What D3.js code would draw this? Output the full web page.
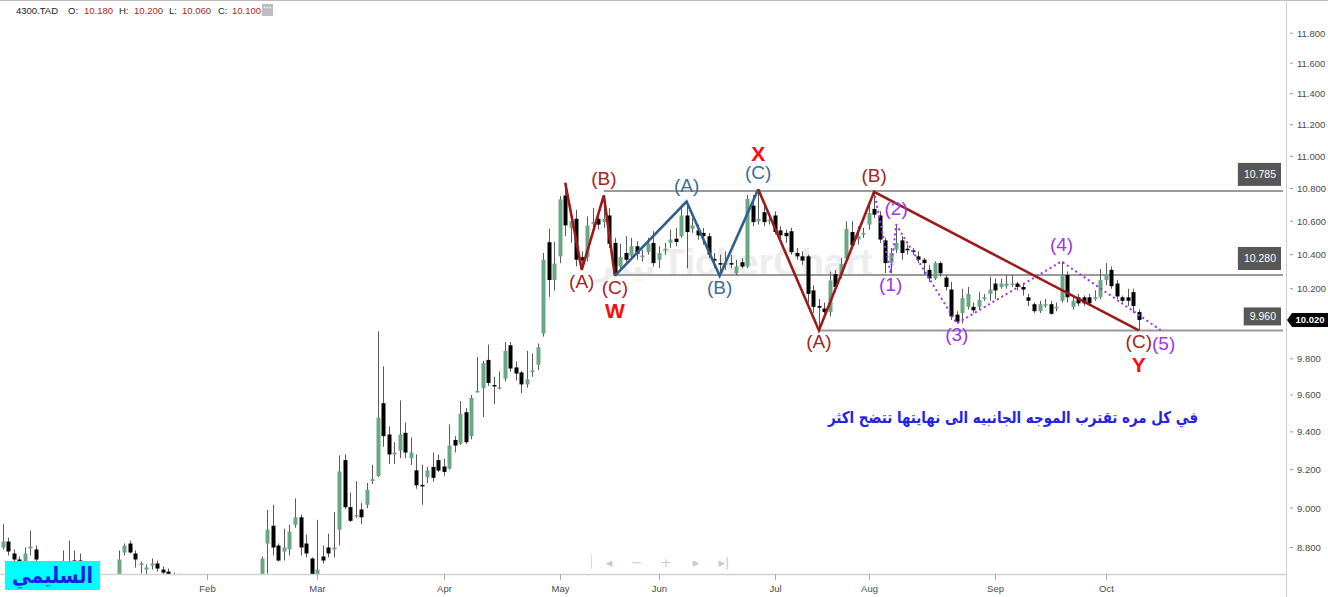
<!DOCTYPE html>
<html><head><meta charset="utf-8">
<script src="https://cdn.jsdelivr.net/npm/d3@7"></script>
<style>
html,body{margin:0;padding:0;background:#fff;overflow:hidden}
svg{display:block}
</style></head><body>
<svg id="chart" width="1328" height="597"></svg>
<script>
// ---- daily OHLC for 4300.TAD, one entry per trading session ----
const opens = [8.80,8.83,8.77,8.74,8.73,8.795,8.79,8.72,8.68,8.70,8.67,8.69,8.71,8.735,8.735,8.69,8.66,8.64,8.62,8.60,
8.62,8.63,8.775,8.82,8.77,8.715,8.69,8.71,8.72,8.69,8.68,8.66,8.64,8.62,8.59,8.55,8.52,8.48,8.50,8.47,
8.44,8.46,8.50,8.53,8.56,8.60,8.58,8.63,8.82,8.91,8.81,8.78,8.79,8.915,8.953,8.82,8.745,8.64,8.755,8.80,
8.79,8.89,9.25,9.005,8.96,8.993,9.017,9.14,9.167,9.555,9.386,9.28,9.30,9.395,9.26,9.196,9.12,9.16,9.214,9.25,
9.216,9.205,9.357,9.337,9.506,9.377,9.618,9.637,9.794,9.655,9.638,9.69,9.876,9.752,9.724,9.658,9.728,9.767,9.942,10.474,
10.25,10.39,10.757,10.56,10.615,10.385,10.385,10.585,10.615,10.595,10.635,10.47,10.33,10.41,10.395,10.45,10.385,10.415,10.47,10.37,
10.425,10.47,10.495,10.51,10.635,10.555,10.545,10.53,10.51,10.375,10.35,10.345,10.35,10.29,10.355,10.33,10.695,10.60,10.655,10.60,
10.635,10.545,10.53,10.54,10.41,10.39,10.39,10.19,10.10,10.085,10.065,10.285,10.285,10.377,10.535,10.49,10.52,10.58,10.675,10.635,
10.485,10.35,10.43,10.485,10.435,10.425,10.39,10.37,10.31,10.26,10.35,10.265,10.195,10.05,10.06,10.095,10.095,10.095,10.14,10.17,
10.23,10.21,10.215,10.225,10.23,10.21,10.15,10.11,10.07,10.11,10.11,10.09,10.13,10.28,10.095,10.15,10.15,10.15,10.14,10.15,
10.25,10.31,10.23,10.15,10.15,10.18,10.065];
const highs = [8.92,8.85,8.79,8.755,8.80,8.885,8.81,8.73,8.72,8.72,8.71,8.785,8.835,8.785,8.77,8.72,8.70,8.68,8.66,8.65,
8.66,8.785,8.82,8.835,8.785,8.73,8.715,8.745,8.735,8.705,8.695,8.675,8.67,8.65,8.62,8.58,8.55,8.52,8.53,8.50,
8.48,8.52,8.55,8.58,8.62,8.64,8.65,8.755,8.99,9.017,8.82,8.895,8.915,9.05,8.967,8.865,8.75,8.94,8.81,8.87,
8.98,9.275,9.28,9.08,9.14,9.026,9.13,9.225,9.955,9.758,9.43,9.345,9.57,9.45,9.37,9.28,9.225,9.214,9.29,9.28,
9.257,9.44,9.377,9.567,9.528,9.60,9.81,9.789,9.88,9.70,9.73,9.895,9.895,9.786,9.733,9.845,9.83,9.886,10.41,10.555,
10.477,10.753,10.835,10.64,10.67,10.42,10.63,10.68,10.67,10.757,10.68,10.50,10.465,10.51,10.50,10.48,10.43,10.50,10.54,10.45,
10.47,10.55,10.56,10.70,10.72,10.62,10.58,10.56,10.53,10.41,10.40,10.42,10.40,10.37,10.38,10.76,10.76,10.795,10.70,10.64,
10.66,10.57,10.55,10.56,10.44,10.42,10.40,10.22,10.14,10.12,10.30,10.31,10.38,10.60,10.60,10.57,10.56,10.70,10.78,10.66,
10.50,10.44,10.58,10.51,10.46,10.44,10.42,10.38,10.34,10.36,10.36,10.28,10.24,10.07,10.20,10.21,10.12,10.18,10.17,10.27,
10.26,10.26,10.28,10.28,10.24,10.23,10.17,10.12,10.13,10.14,10.13,10.12,10.36,10.30,10.16,10.17,10.16,10.17,10.19,10.315,
10.35,10.33,10.25,10.16,10.20,10.20,10.08];
const lows = [8.79,8.76,8.72,8.68,8.71,8.76,8.72,8.66,8.64,8.65,8.64,8.68,8.69,8.68,8.67,8.64,8.62,8.60,8.58,8.57,
8.58,8.61,8.76,8.77,8.70,8.67,8.66,8.69,8.68,8.65,8.64,8.62,8.60,8.57,8.53,8.50,8.46,8.44,8.45,8.42,
8.40,8.44,8.47,8.50,8.53,8.56,8.55,8.61,8.67,8.76,8.73,8.735,8.76,8.90,8.76,8.75,8.62,8.62,8.72,8.75,
8.75,8.81,8.995,8.93,8.95,8.918,9.00,9.125,9.16,9.32,9.23,9.23,9.26,9.26,9.225,9.10,9.017,9.13,9.137,9.188,
9.167,9.20,9.29,9.33,9.335,9.36,9.615,9.479,9.65,9.55,9.63,9.675,9.728,9.68,9.61,9.64,9.70,9.738,9.925,10.152,
10.19,10.35,10.51,10.47,10.33,10.31,10.36,10.55,10.55,10.56,10.44,10.275,10.31,10.34,10.37,10.37,10.36,10.40,10.33,10.32,
10.40,10.44,10.45,10.50,10.32,10.53,10.49,10.46,10.38,10.32,10.275,10.31,10.32,10.28,10.32,10.32,10.57,10.58,10.57,10.58,
10.52,10.49,10.47,10.40,10.37,10.34,10.12,10.06,9.96,10.03,10.04,10.18,10.26,10.35,10.44,10.46,10.50,10.55,10.62,10.47,
10.29,10.29,10.41,10.37,10.40,10.40,10.35,10.28,10.24,10.25,10.27,10.19,10.02,10.00,10.00,10.08,10.06,10.08,10.13,10.13,
10.14,10.20,10.20,10.21,10.19,10.16,10.10,10.06,10.06,10.09,10.05,10.07,10.12,10.12,10.08,10.10,10.10,10.10,10.13,10.14,
10.22,10.20,10.14,10.12,10.10,10.06,9.96];
const closes = [8.83,8.78,8.74,8.70,8.77,8.805,8.74,8.68,8.70,8.67,8.69,8.72,8.73,8.70,8.69,8.66,8.64,8.62,8.60,8.62,
8.63,8.74,8.81,8.775,8.74,8.72,8.70,8.72,8.695,8.675,8.665,8.64,8.62,8.59,8.55,8.52,8.48,8.50,8.47,8.44,
8.46,8.50,8.53,8.56,8.60,8.58,8.63,8.745,8.89,8.80,8.735,8.80,8.88,8.953,8.80,8.77,8.64,8.69,8.735,8.77,
8.80,9.19,9.005,8.935,8.965,8.953,9.095,9.15,9.476,9.377,9.28,9.29,9.386,9.29,9.29,9.118,9.115,9.196,9.157,9.195,
9.188,9.327,9.327,9.497,9.345,9.584,9.622,9.776,9.666,9.648,9.642,9.845,9.746,9.718,9.658,9.686,9.735,9.865,10.37,10.251,
10.347,10.733,10.575,10.60,10.37,10.365,10.573,10.595,10.58,10.615,10.465,10.29,10.385,10.37,10.45,10.405,10.395,10.465,10.35,10.41,
10.435,10.49,10.475,10.635,10.535,10.575,10.515,10.51,10.40,10.365,10.345,10.35,10.345,10.33,10.33,10.735,10.595,10.615,10.595,10.61,
10.535,10.515,10.51,10.415,10.39,10.365,10.17,10.095,10.09,10.065,10.248,10.21,10.345,10.555,10.455,10.51,10.53,10.65,10.64,10.49,
10.35,10.41,10.47,10.41,10.43,10.42,10.37,10.35,10.26,10.35,10.29,10.21,10.04,10.01,10.145,10.17,10.075,10.135,10.15,10.195,
10.19,10.23,10.23,10.23,10.21,10.195,10.13,10.07,10.11,10.11,10.055,10.095,10.28,10.15,10.13,10.115,10.115,10.115,10.15,10.25,
10.285,10.215,10.155,10.13,10.13,10.10,10.02];

// month labels, placed on the session index where each month opens
const monthLabels = ['Feb','Mar','Apr','May','Jun','Jul','Aug','Sep','Oct'];
const monthIndex  = [37, 57, 80, 101, 119, 140, 157, 180, 200];

// price axis ticks
const priceTicks = [8.8,9.0,9.2,9.4,9.6,9.8,10.0,10.2,10.4,10.6,10.8,11.0,11.2,11.4,11.6,11.8];

// horizontal support / resistance levels and the session each one starts from
const levelValues = [10.785, 10.280, 9.960];
const levelFrom   = [109, 111, 148];

// header readout (session index) and last traded price
const readoutIndex = 205;
const lastPrice = 10.02;

// Elliott wave pivots: [session index, price, label, side]
const waveW  = [[102,10.835,'',''],[105,10.31,'(A)','b'],[109,10.757,'(B)','a'],[111,10.275,'(C)','b']];
const waveX  = [[111,10.275,'',''],[124,10.72,'(A)','a'],[130,10.275,'(B)','b'],[137,10.795,'(C)','a']];
const waveY  = [[137,10.795,'',''],[148,9.96,'(A)','b'],[158,10.78,'(B)','a'],[206,9.96,'(C)','b']];
const waveC5 = [[158,10.78,'',''],[161,10.29,'(1)','b'],[162,10.58,'(2)','a'],[173,10.00,'(3)','b'],[192,10.36,'(4)','a'],[210.5,9.95,'(5)','b']];
const degreeMarks = [[111,10.275,'W','b'],[137,10.795,'X','a'],[206,9.96,'Y','b']];

const noteText = 'في كل مره تقترب الموجه الجانبيه الى نهايتها تتضح اكثر';
const badgeText = 'السليمي';

// ---------------------------------------------------------------
const W = 1328, H = 597;
const plotRight = 1286, plotBottom = 574;
const svg = d3.select('#chart');

const x = d3.scaleLinear().domain([0, opens.length - 1]).range([2.7, 2.7 + 5.515 * (opens.length - 1)]);
const y = d3.scaleLog().domain([8.668, 12.026]).range([plotBottom, 0]);

const GREEN = '#6aa783', RED_LINE = '#9b1a1a', RED_TXT = '#a52424',
      BLUE_LINE = '#2f5f8c', BLUE_TXT = '#3b6c9c', PURPLE = '#9b37ee';
const SANS = "'Liberation Sans', Arial, sans-serif";

svg.append('rect').attr('width', W).attr('height', H).attr('fill', '#fff');

svg.append('defs').append('clipPath').attr('id', 'plot')
  .append('rect').attr('x', 0).attr('y', 0).attr('width', plotRight).attr('height', plotBottom);

// frame
svg.append('line').attr('x1', 0).attr('x2', W).attr('y1', 0.5).attr('y2', 0.5).attr('stroke', '#bdbdbd');
svg.append('line').attr('x1', plotRight + 0.5).attr('x2', plotRight + 0.5).attr('y1', 0).attr('y2', H).attr('stroke', '#cfcfcf');

// watermark
const wm = svg.append('g').attr('fill', '#ededed').attr('font-family', SANS).attr('font-weight', 'bold');
wm.append('text').attr('x', 662).attr('y', 276).attr('font-size', 38).text('TickerChart');
wm.append('text').attr('x', 596).attr('y', 276).attr('font-size', 30)
  .attr('font-family', "'DejaVu Sans', sans-serif").text('تيكر');

const plot = svg.append('g').attr('clip-path', 'url(#plot)');

// level lines
levelValues.forEach((v, k) => {
  plot.append('line')
    .attr('x1', x(levelFrom[k])).attr('x2', plotRight - 3)
    .attr('y1', y(v)).attr('y2', y(v))
    .attr('stroke', '#9a9a9a').attr('stroke-width', 2);
});

// candles
const idx = d3.range(opens.length);
const candles = plot.append('g');
candles.selectAll('line.wick').data(idx).join('line')
  .attr('class', 'wick')
  .attr('x1', i => Math.round(x(i)) + 0.5).attr('x2', i => Math.round(x(i)) + 0.5)
  .attr('y1', i => y(highs[i])).attr('y2', i => y(lows[i]))
  .attr('stroke', '#5a5a5a').attr('stroke-width', 1);
candles.selectAll('rect.body').data(idx).join('rect')
  .attr('class', 'body')
  .attr('x', i => Math.round(x(i)) - 1.5)
  .attr('width', 4)
  .attr('y', i => y(Math.max(opens[i], closes[i])))
  .attr('height', i => Math.max(1.5, y(Math.min(opens[i], closes[i])) - y(Math.max(opens[i], closes[i]))))
  .attr('fill', i => closes[i] >= opens[i] ? GREEN : '#000');

// wave paths
const line = d3.line().x(d => x(d[0])).y(d => y(d[1]));
function drawWave(pts, color, width, dash) {
  plot.append('path').datum(pts).attr('d', line)
    .attr('fill', 'none').attr('stroke', color).attr('stroke-width', width)
    .attr('stroke-linejoin', 'miter').attr('stroke-linecap', dash ? 'round' : 'butt')
    .attr('stroke-dasharray', dash || null);
}
function drawLabels(pts, color) {
  svg.append('g').selectAll('text').data(pts.filter(d => d[2])).join('text')
    .attr('x', d => x(d[0])).attr('y', d => y(d[1]) + (d[3] === 'a' ? -10 : 18))
    .attr('text-anchor', 'middle').attr('font-family', SANS).attr('font-size', 19)
    .attr('fill', color).text(d => d[2]);
}
drawWave(waveC5, PURPLE, 2.2, '0.1,5');
drawWave(waveW, RED_LINE, 2.6);
drawWave(waveX, BLUE_LINE, 2.6);
drawWave(waveY, RED_LINE, 2.6);
drawLabels(waveW, RED_TXT);
drawLabels(waveX, BLUE_TXT);
drawLabels(waveY, RED_TXT);
drawLabels(waveC5, PURPLE);

svg.append('g').selectAll('text').data(degreeMarks).join('text')
  .attr('x', d => x(d[0])).attr('y', d => y(d[1]) + (d[3] === 'a' ? -28 : 42))
  .attr('text-anchor', 'middle').attr('font-family', SANS).attr('font-weight', 'bold')
  .attr('font-size', 21).attr('fill', '#ff0a0a').text(d => d[2]);

// price axis
const yAxis = svg.append('g').attr('font-family', SANS).attr('font-size', 9.5).attr('fill', '#4a4a4a');
priceTicks.forEach(v => {
  yAxis.append('line').attr('x1', 1290).attr('x2', 1293).attr('y1', y(v)).attr('y2', y(v)).attr('stroke', '#999');
  yAxis.append('text').attr('x', 1297).attr('y', y(v) + 3.5).text(d3.format('.3f')(v));
});

// level value boxes
const boxH = [23, 23, 18];
levelValues.forEach((v, k) => {
  const g = svg.append('g');
  const t = g.append('text').attr('font-family', SANS).attr('font-size', 10.5).attr('fill', '#fff')
    .attr('text-anchor', 'end').attr('x', 1276).attr('y', y(v) - 5 - boxH[k] / 2 + 4).text(d3.format('.3f')(v));
  const w = t.node().getComputedTextLength() + 11;
  g.insert('rect', 'text').attr('x', 1281 - w).attr('width', w)
    .attr('y', y(v) - 5 - boxH[k]).attr('height', boxH[k]).attr('fill', '#575757');
});

// last price tag
const ty = y(lastPrice);
svg.append('path')
  .attr('d', `M1287,${ty} L1292,${ty - 7} L1328,${ty - 7} L1328,${ty + 7} L1292,${ty + 7} Z`)
  .attr('fill', '#000');
svg.append('text').attr('x', 1310).attr('y', ty + 3.5).attr('text-anchor', 'middle')
  .attr('font-family', SANS).attr('font-size', 9.5).attr('font-weight', 'bold').attr('fill', '#fff')
  .text(d3.format('.3f')(lastPrice));

// time axis
svg.append('line').attr('x1', 0).attr('x2', plotRight).attr('y1', plotBottom + 0.5).attr('y2', plotBottom + 0.5)
  .attr('stroke', '#d2d2d2').attr('stroke-width', 1.5);
const xAxis = svg.append('g').attr('font-family', SANS).attr('font-size', 9.5).attr('fill', '#4a4a4a');
monthLabels.forEach((m, k) => {
  const px = Math.round(x(monthIndex[k])) + 0.5;
  xAxis.append('line').attr('x1', px).attr('x2', px).attr('y1', plotBottom).attr('y2', plotBottom + 6).attr('stroke', '#aaa');
  xAxis.append('text').attr('x', px).attr('y', 592).attr('text-anchor', 'middle').text(m);
});

// scroll / zoom controls
const nav = svg.append('g').attr('fill', '#c9c9c9').attr('font-family', "'DejaVu Sans', sans-serif").attr('font-size', 13);
nav.append('line').attr('x1', 591.5).attr('x2', 591.5).attr('y1', 555).attr('y2', 569).attr('stroke', '#dcdcdc');
[['◂', 609], ['−', 637], ['+', 666], ['▸', 696], ['▸|', 724]].forEach(d =>
  nav.append('text').attr('x', d[1]).attr('y', 567).attr('text-anchor', 'middle').text(d[0]));

// header readout
const hdr = svg.append('g').attr('font-family', SANS).attr('font-size', 9.5);
hdr.append('text').attr('x', 16).attr('y', 14).attr('fill', '#222').text('4300.TAD');
const ro = [['O:', opens], ['H:', highs], ['L:', lows], ['C:', closes]];
const roX = [68, 119, 169, 218];
const roValX = [84, 134, 182, 232];
ro.forEach((r, k) => {
  hdr.append('text').attr('x', roX[k]).attr('y', 14).attr('fill', '#222').text(r[0]);
  hdr.append('text').attr('x', roValX[k]).attr('y', 14).attr('fill', '#a32a2a').text(d3.format('.3f')(r[1][readoutIndex]));
});
svg.append('rect').attr('x', 262).attr('y', 4).attr('width', 11).attr('height', 12).attr('fill', '#bdbdbd');
svg.append('text').attr('x', 267.5).attr('y', 11).attr('text-anchor', 'middle').attr('fill', '#fff')
  .attr('font-family', SANS).attr('font-size', 9).attr('font-weight', 'bold').text('···');

// commentary
svg.append('text').attr('x', 828).attr('y', 423)
  .attr('textLength', 370).attr('lengthAdjust', 'spacingAndGlyphs')
  .attr('font-family', "'DejaVu Sans', sans-serif").attr('font-weight', 'bold').attr('font-size', 16)
  .attr('fill', '#2323e8').text(noteText);

// author badge
svg.append('rect').attr('x', 5).attr('y', 561).attr('width', 95).attr('height', 29).attr('fill', '#00ffff');
svg.append('text').attr('x', 12).attr('y', 583)
  .attr('textLength', 81).attr('lengthAdjust', 'spacingAndGlyphs')
  .attr('font-family', "'DejaVu Sans', sans-serif").attr('font-weight', 'bold').attr('font-size', 22)
  .attr('fill', '#1020ee').text(badgeText);
</script>
</body></html>
